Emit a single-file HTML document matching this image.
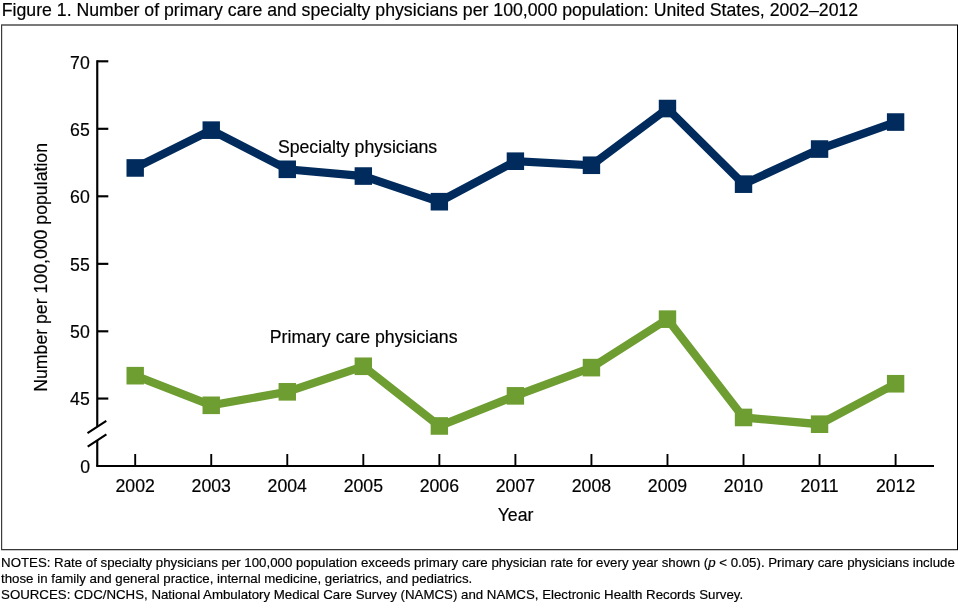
<!DOCTYPE html>
<html lang="en"><head><meta charset="utf-8"><title>Figure 1</title>
<style>
html,body{margin:0;padding:0;background:#fff;}
body{width:960px;height:604px;overflow:hidden;}
svg{display:block;font-family:"Liberation Sans",Arial,Helvetica,sans-serif;}
text{stroke:#000;stroke-width:0.18px;stroke-linejoin:round;}
</style></head><body>
<svg width="960" height="604" viewBox="0 0 960 604">
<rect x="0" y="0" width="960" height="604" fill="#fff"/>
<text x="1.8" y="15.8" font-size="17.7" fill="#000">Figure 1. Number of primary care and specialty physicians per 100,000 population: United States, 2002–2012</text>
<g shape-rendering="crispEdges">
<rect x="1" y="24" width="957" height="2" fill="#7a7a7a"/>
<rect x="2" y="26" width="1" height="523" fill="#d8d8d8"/>
<rect x="1" y="550" width="957" height="1" fill="#c8c8c8"/>
<rect x="1" y="25" width="1" height="525" fill="#3c3c3c"/>
<rect x="1" y="549" width="957" height="1" fill="#383838"/>
<rect x="957" y="25" width="1" height="525" fill="#000"/>
</g>
<g stroke="#000" stroke-width="2.15" fill="none">
<path d="M97.25 60.25 V426.5 M97.25 440 V466.0"/>
<path d="M96.18 466.0 H934" stroke-width="2"/>
<path d="M97.25 61.30 H108.3"/>
<path d="M97.25 128.80 H108.3"/>
<path d="M97.25 196.30 H108.3"/>
<path d="M97.25 263.85 H108.3"/>
<path d="M97.25 331.30 H108.3"/>
<path d="M97.25 398.55 H108.3"/>
<path d="M135.20 466.0 V454" stroke-width="1.9"/>
<path d="M211.24 466.0 V454" stroke-width="1.9"/>
<path d="M287.28 466.0 V454" stroke-width="1.9"/>
<path d="M363.32 466.0 V454" stroke-width="1.9"/>
<path d="M439.36 466.0 V454" stroke-width="1.9"/>
<path d="M515.40 466.0 V454" stroke-width="1.9"/>
<path d="M591.44 466.0 V454" stroke-width="1.9"/>
<path d="M667.48 466.0 V454" stroke-width="1.9"/>
<path d="M743.52 466.0 V454" stroke-width="1.9"/>
<path d="M819.56 466.0 V454" stroke-width="1.9"/>
<path d="M895.60 466.0 V454" stroke-width="1.9"/>
<path d="M87.5 433.2 L106.3 420.8 M87.7 446.6 L106.4 434.3"/>
</g>
<g font-size="17.7" fill="#000" text-anchor="end">
<text x="89.8" y="68.85">70</text>
<text x="89.8" y="135.90">65</text>
<text x="89.8" y="203.10">60</text>
<text x="89.8" y="270.85">55</text>
<text x="89.8" y="338.45">50</text>
<text x="89.8" y="405.40">45</text>
<text x="90.0" y="472.90">0</text>
</g>
<g font-size="17.7" fill="#000" text-anchor="middle">
<text x="135.20" y="492">2002</text>
<text x="211.24" y="492">2003</text>
<text x="287.28" y="492">2004</text>
<text x="363.32" y="492">2005</text>
<text x="439.36" y="492">2006</text>
<text x="515.40" y="492">2007</text>
<text x="591.44" y="492">2008</text>
<text x="667.48" y="492">2009</text>
<text x="743.52" y="492">2010</text>
<text x="819.56" y="492">2011</text>
<text x="895.60" y="492">2012</text>
<text x="515.5" y="521.4">Year</text>
<text transform="translate(46.55 267.4) rotate(-90)">Number per 100,000 population</text>
</g>
<polyline points="135.20,167.95 211.24,130.15 287.28,169.30 363.32,176.05 439.36,201.70 515.40,161.20 591.44,165.25 667.48,108.55 743.52,184.15 819.56,149.05 895.60,122.05" fill="none" stroke="#002b5c" stroke-width="8.2" stroke-linejoin="miter"/>
<g fill="#002b5c"><rect x="126.50" y="159.15" width="17.4" height="17.6"/><rect x="202.54" y="121.35" width="17.4" height="17.6"/><rect x="278.58" y="160.50" width="17.4" height="17.6"/><rect x="354.62" y="167.25" width="17.4" height="17.6"/><rect x="430.66" y="192.90" width="17.4" height="17.6"/><rect x="506.70" y="152.40" width="17.4" height="17.6"/><rect x="582.74" y="156.45" width="17.4" height="17.6"/><rect x="658.78" y="99.75" width="17.4" height="17.6"/><rect x="734.82" y="175.35" width="17.4" height="17.6"/><rect x="810.86" y="140.25" width="17.4" height="17.6"/><rect x="886.90" y="113.25" width="17.4" height="17.6"/></g>
<polyline points="135.20,375.68 211.24,405.30 287.28,391.82 363.32,366.27 439.36,425.96 515.40,395.86 591.44,367.62 667.48,319.16 743.52,417.45 819.56,424.20 895.60,383.75" fill="none" stroke="#6e9d31" stroke-width="8.2" stroke-linejoin="miter"/>
<g fill="#6e9d31"><rect x="126.50" y="366.88" width="17.4" height="17.6"/><rect x="202.54" y="396.50" width="17.4" height="17.6"/><rect x="278.58" y="383.02" width="17.4" height="17.6"/><rect x="354.62" y="357.47" width="17.4" height="17.6"/><rect x="430.66" y="417.16" width="17.4" height="17.6"/><rect x="506.70" y="387.06" width="17.4" height="17.6"/><rect x="582.74" y="358.82" width="17.4" height="17.6"/><rect x="658.78" y="310.36" width="17.4" height="17.6"/><rect x="734.82" y="408.65" width="17.4" height="17.6"/><rect x="810.86" y="415.40" width="17.4" height="17.6"/><rect x="886.90" y="374.95" width="17.4" height="17.6"/></g>
<text x="277.9" y="153.0" font-size="17.7" fill="#000">Specialty physicians</text>
<text x="269.8" y="343.3" font-size="17.7" fill="#000">Primary care physicians</text>
<g font-size="13.275" fill="#000">
<text x="1.05" y="567">NOTES: Rate of specialty physicians per 100,000 population exceeds primary care physician rate for every year shown (<tspan font-style="italic">p</tspan> &lt; 0.05). Primary care physicians include</text>
<text x="1.05" y="582.8">those in family and general practice, internal medicine, geriatrics, and pediatrics.</text>
<text x="1.05" y="598.7">SOURCES: CDC/NCHS, National Ambulatory Medical Care Survey (NAMCS) and NAMCS, Electronic Health Records Survey.</text>
</g>
</svg>
</body></html>
